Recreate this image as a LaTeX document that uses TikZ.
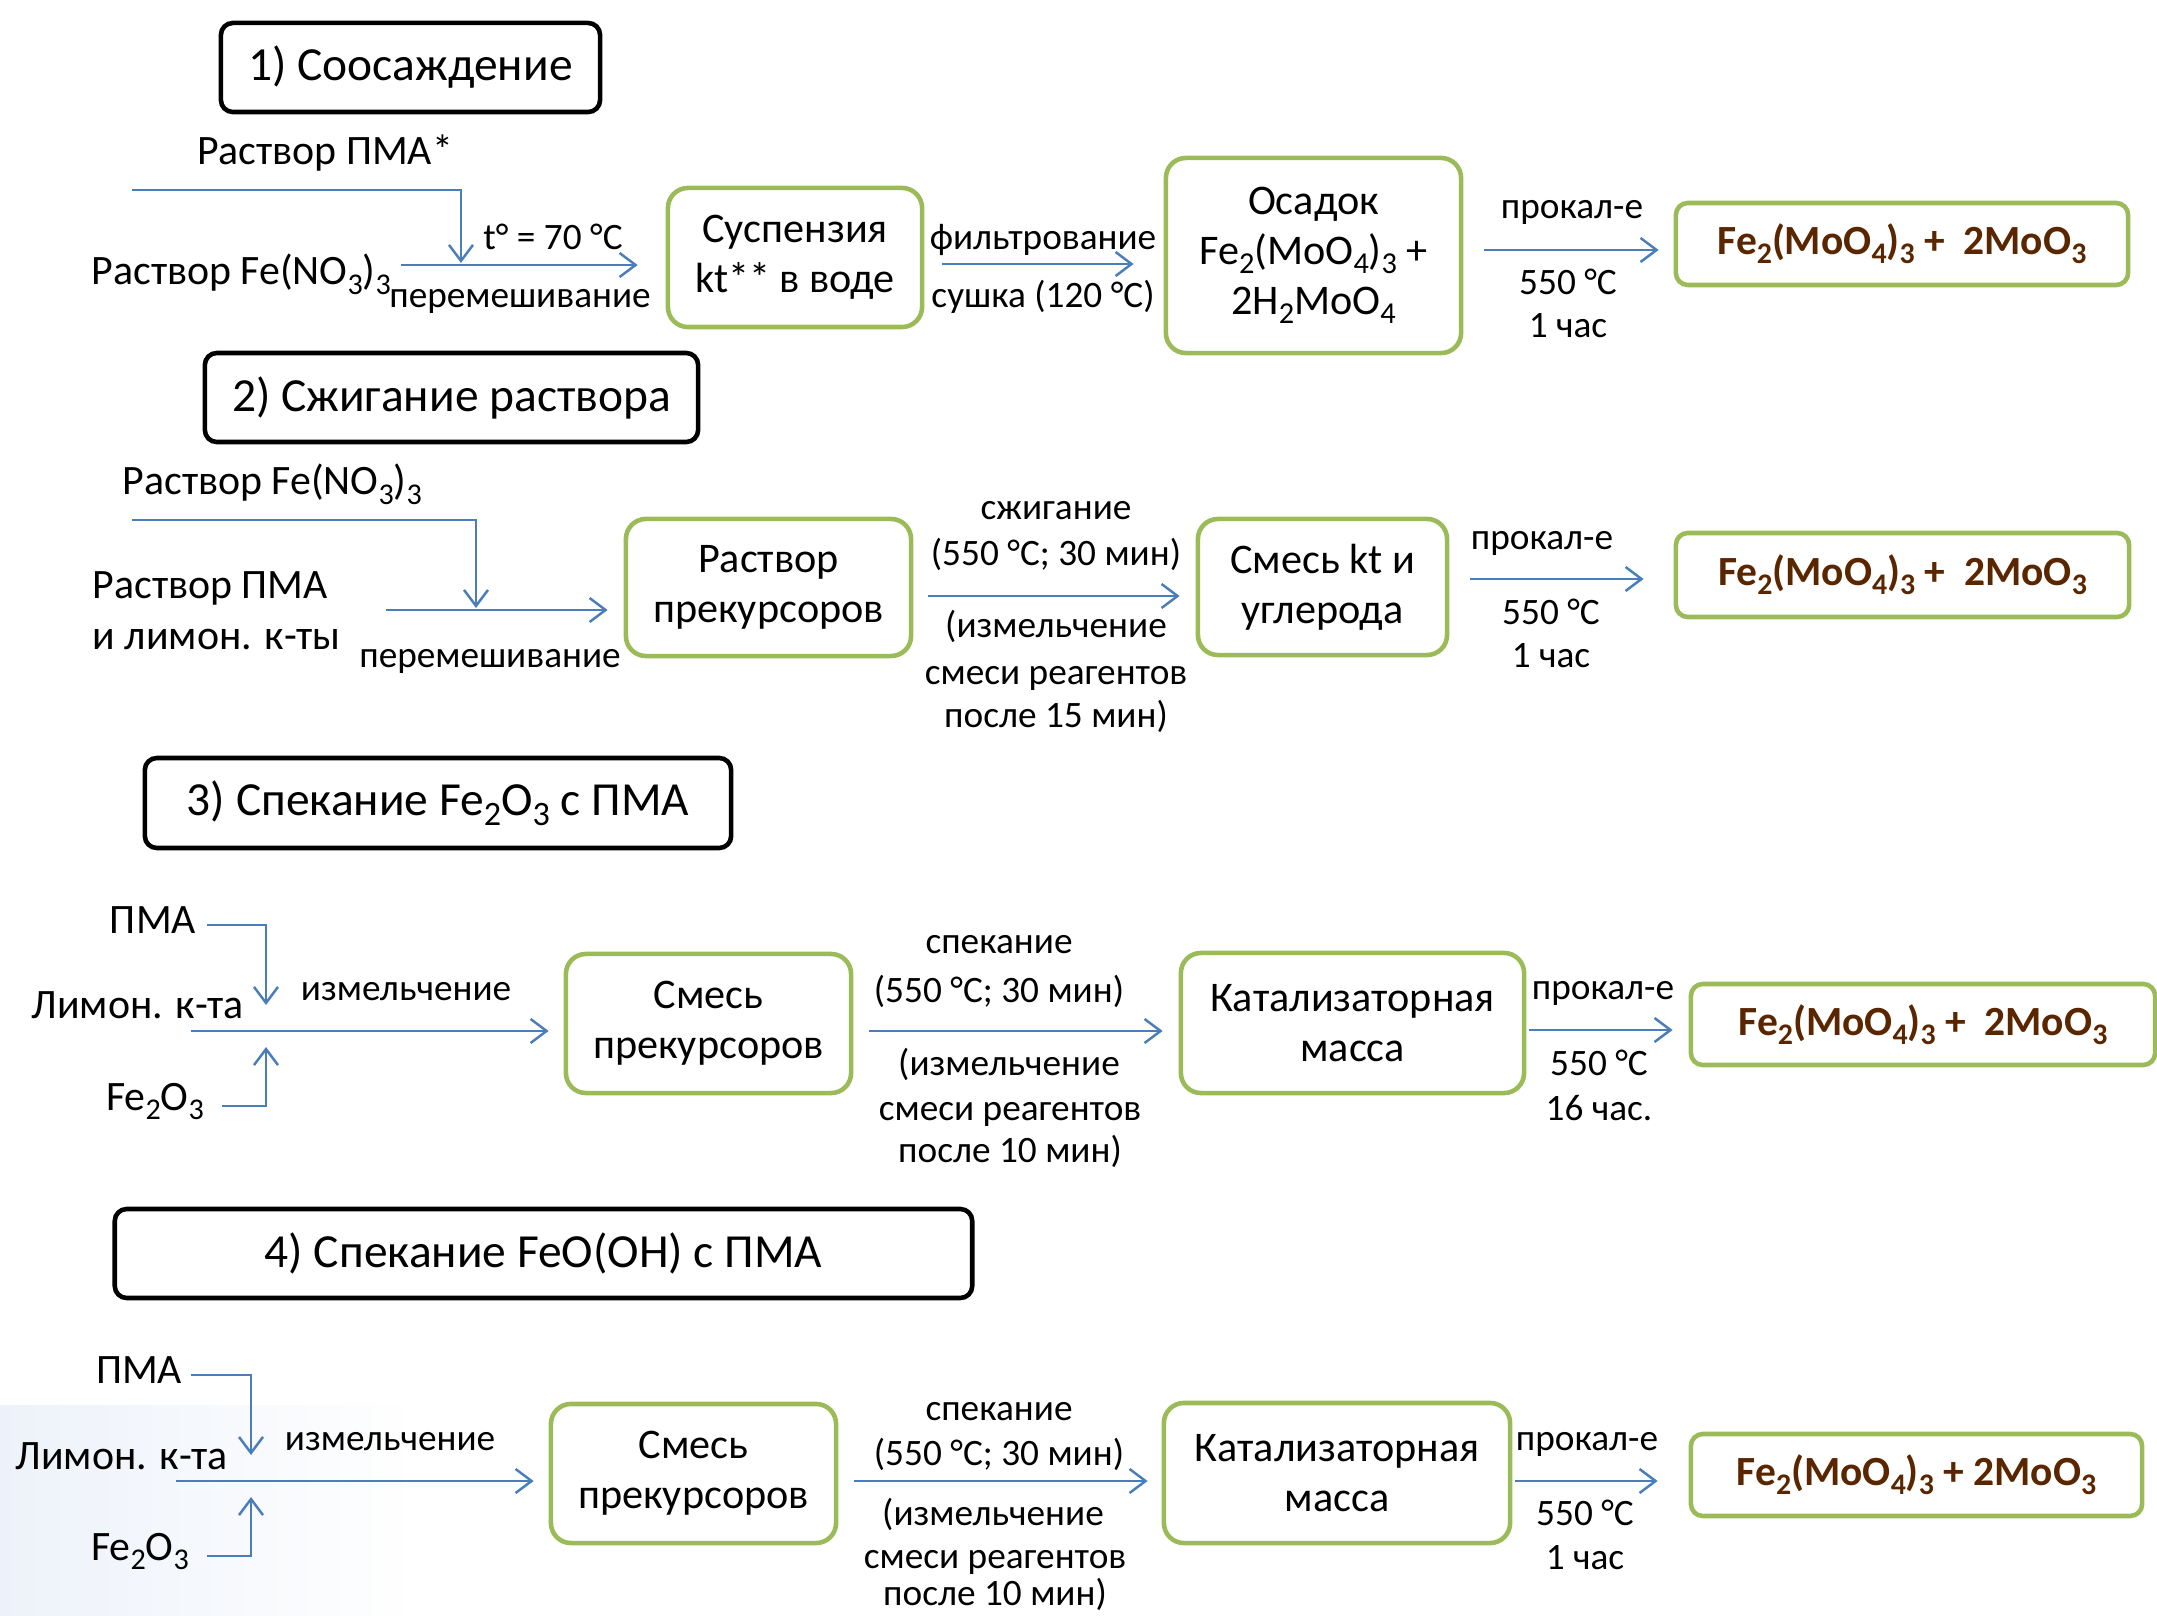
\documentclass[tikz,border=0pt]{standalone}
\usepackage{fontspec}
\usepackage{graphicx}
\setmainfont{Carlito}
\usetikzlibrary{arrows.meta,calc}
\definecolor{flowblue}{HTML}{4A7EBB}
\definecolor{boxgreen}{HTML}{9BBB59}
\definecolor{prodtext}{HTML}{5A2600}
\definecolor{bgblue}{HTML}{EDF2FA}
\newcommand{\sbs}[1]{\raisebox{-0.22em}{\scalebox{0.72}{#1}}}
\tikzset{
  lbl/.style={font=\fontsize{10.6}{12}\selectfont, inner sep=0pt, anchor=base},
  inlbl/.style={font=\fontsize{11.9}{13}\selectfont, inner sep=0pt, anchor=base},
  inlblw/.style={inlbl, anchor=base west},
  stepbox/.style={draw=boxgreen, line width=1.3pt, rounded corners=0.2cm, align=center,
    font=\fontsize{12}{14.2}\selectfont, inner sep=2pt},
  titlebox/.style={draw=black, line width=1.3pt, rounded corners=0.12cm,
    font=\fontsize{13.5}{16}\selectfont, inner sep=0pt},
  prodbox/.style={draw=boxgreen, line width=1.3pt, rounded corners=0.12cm,
    font=\bfseries\fontsize{11.8}{14}\selectfont, text=prodtext, inner sep=0pt},
  flow/.style={draw=flowblue, line width=0.7pt, -{Straight Barb[length=0.16cm,width=0.24cm]}},
}
\begin{document}
\begin{tikzpicture}[x=0.01cm,y=-0.01cm]
\useasboundingbox (0,0) rectangle (2157,1616);
\shade[left color=bgblue, right color=white] (0,1405) rectangle (420,1616);

% ---------- Section 1 ----------
\node[titlebox, minimum width=3.79cm, minimum height=0.89cm] (t1) at (410.5,67.5) {1) Соосаждение};
\node[inlbl] (l1a) at (325,165) {Раствор ПМА*};
\node[inlblw] (l1b) at (91,285) {Раствор Fe(NO\sbs{3})\sbs{3}};
\node[lbl] (l1c) at (553,250) {t° = 70 °C};
\node[lbl] (l1d) at (520,308) {перемешивание};
\node[stepbox, minimum width=2.54cm, minimum height=1.39cm] (b1) at (795,257.5) {Суспензия\\kt** в воде};
\node[lbl] (l1e) at (1043,250) {фильтрование};
\node[lbl] (l1f) at (1043,308) {сушка (120 °C)};
\node[stepbox, minimum width=2.95cm, minimum height=1.95cm] (b2) at (1313.5,255.5) {Осадок\\Fe\sbs{2}(MoO\sbs{4})\sbs{3} +\\2H\sbs{2}MoO\sbs{4}};
\node[lbl] (l1g) at (1572,219) {прокал-е};
\node[lbl] (l1h) at (1568,295) {550 °C};
\node[lbl] (l1i) at (1568,338) {1 час};
\node[prodbox, minimum width=4.52cm, minimum height=0.82cm] (p1) at (1902,244) {Fe\sbs{2}(MoO\sbs{4})\sbs{3} +\ \ 2MoO\sbs{3}};

\coordinate (f1s) at (132,190);
\coordinate (j1) at (461,263);
\coordinate (m1) at (401,265);
\coordinate (y12) at (0,264);
\coordinate (y1p) at (0,250);
\draw[flow] (f1s) -| (j1);
\draw[flow] (m1) -- ($(b1.west |- m1)+(-28,0)$);
\draw[flow] ($(b1.east |- y12)+(18,0)$) -- ($(b2.west |- y12)+(-30,0)$);
\draw[flow] ($(b2.east |- y1p)+(21,0)$) -- ($(p1.west |- y1p)+(-15,0)$);

% ---------- Section 2 ----------
\node[titlebox, minimum width=4.93cm, minimum height=0.89cm] (t2) at (451.5,397.5) {2) Сжигание раствора};
\node[inlblw] (l2a) at (122,495) {Раствор Fe(NO\sbs{3})\sbs{3}};
\node[inlblw] (l2b) at (92,599) {Раствор ПМА};
\node[inlblw] (l2c) at (92,650) {и лимон. к-ты};
\node[lbl] (l2d) at (490,668) {перемешивание};
\node[stepbox, minimum width=2.85cm, minimum height=1.37cm] (b3) at (768.5,587.5) {Раствор\\прекурсоров};
\node[lbl] (l2e) at (1056,520) {сжигание};
\node[lbl] (l2f) at (1056,566) {(550 °C; 30 мин)};
\node[lbl] (l2g) at (1056,638) {(измельчение};
\node[lbl] (l2h) at (1056,685) {смеси реагентов};
\node[lbl] (l2i) at (1056,728) {после 15 мин)};
\node[stepbox, minimum width=2.49cm, minimum height=1.36cm] (b4) at (1322.5,587) {Смесь kt и\\углерода};
\node[lbl] (l2j) at (1542,550) {прокал-е};
\node[lbl] (l2k) at (1551,625) {550 °C};
\node[lbl] (l2l) at (1551,668) {1 час};
\node[prodbox, minimum width=4.53cm, minimum height=0.84cm] (p2) at (1902.5,575) {Fe\sbs{2}(MoO\sbs{4})\sbs{3} +\ \ 2MoO\sbs{3}};

\coordinate (f2s) at (132,520);
\coordinate (j2) at (476,608);
\coordinate (m2) at (386,610);
\coordinate (y34) at (0,596);
\coordinate (y4p) at (0,579);
\draw[flow] (f2s) -| (j2);
\draw[flow] (m2) -- ($(b3.west |- m2)+(-16,0)$);
\draw[flow] ($(b3.east |- y34)+(15,0)$) -- ($(b4.west |- y34)+(-16,0)$);
\draw[flow] ($(b4.east |- y4p)+(21,0)$) -- ($(p2.west |- y4p)+(-30,0)$);

% ---------- Section 3 ----------
\node[titlebox, minimum width=5.86cm, minimum height=0.90cm] (t3) at (438,803) {3) Спекание Fe\sbs{2}O\sbs{3} с ПМА};
\node[inlbl] (l3a) at (153,933) {ПМА};
\node[inlblw] (l3b) at (31,1018) {Лимон. к-та};
\node[inlbl] (l3c) at (155,1110) {Fe\sbs{2}O\sbs{3}};
\node[lbl] (l3d) at (406,1000) {измельчение};
\node[stepbox, minimum width=2.85cm, minimum height=1.39cm] (b5) at (708.5,1023.5) {Смесь\\прекурсоров};
\node[lbl] (l3e) at (999,953) {спекание};
\node[lbl] (l3f) at (999,1002) {(550 °C; 30 мин)};
\node[lbl] (l3g) at (1009,1075) {(измельчение};
\node[lbl] (l3h) at (1010,1120) {смеси реагентов};
\node[lbl] (l3i) at (1010,1162) {после 10 мин)};
\node[stepbox, minimum width=3.43cm, minimum height=1.40cm] (b6) at (1352.5,1023) {Катализаторная\\масса};
\node[lbl] (l3j) at (1603,999) {прокал-е};
\node[lbl] (l3k) at (1599,1075) {550 °C};
\node[lbl] (l3l) at (1599,1120) {16 час.};
\node[prodbox, minimum width=4.64cm, minimum height=0.81cm] (p3) at (1923,1024.5) {Fe\sbs{2}(MoO\sbs{4})\sbs{3} +\ \ 2MoO\sbs{3}};

\coordinate (f3a) at (207,925);
\coordinate (j3a) at (266,1005);
\coordinate (f3b) at (222,1106);
\coordinate (j3b) at (266,1047);
\coordinate (m3) at (191,1031);
\coordinate (y56) at (0,1031);
\coordinate (y6p) at (0,1030);
\draw[flow] (f3a) -| (j3a);
\draw[flow] (f3b) -| (j3b);
\draw[flow] (m3) -- ($(b5.west |- m3)+(-15,0)$);
\draw[flow] ($(b5.east |- y56)+(16,0)$) -- ($(b6.west |- y56)+(-16,0)$);
\draw[flow] ($(b6.east |- y6p)+(3,0)$) -- ($(p3.west |- y6p)+(-16,0)$);

% ---------- Section 4 ----------
\node[titlebox, minimum width=8.57cm, minimum height=0.89cm] (t4) at (543.5,1253.5) {4) Спекание FeO(OH) с ПМА};
\node[inlbl] (l4a) at (139,1383) {ПМА};
\node[inlblw] (l4b) at (15,1469) {Лимон. к-та};
\node[inlbl] (l4c) at (140,1560) {Fe\sbs{2}O\sbs{3}};
\node[lbl] (l4d) at (390,1450) {измельчение};
\node[stepbox, minimum width=2.85cm, minimum height=1.39cm] (b7) at (693.5,1473.5) {Смесь\\прекурсоров};
\node[lbl] (l4e) at (999,1420) {спекание};
\node[lbl] (l4f) at (999,1465) {(550 °C; 30 мин)};
\node[lbl] (l4g) at (993,1525) {(измельчение};
\node[lbl] (l4h) at (995,1568) {смеси реагентов};
\node[lbl] (l4i) at (995,1605) {после 10 мин)};
\node[stepbox, minimum width=3.46cm, minimum height=1.40cm] (b8) at (1337,1473) {Катализаторная\\масса};
\node[lbl] (l4j) at (1587,1450) {прокал-е};
\node[lbl] (l4k) at (1585,1525) {550 °C};
\node[lbl] (l4l) at (1585,1569) {1 час};
\node[prodbox, minimum width=4.51cm, minimum height=0.82cm] (p4) at (1916.5,1475) {Fe\sbs{2}(MoO\sbs{4})\sbs{3} + 2MoO\sbs{3}};

\coordinate (f4a) at (191,1375);
\coordinate (j4a) at (251,1455);
\coordinate (f4b) at (207,1556);
\coordinate (j4b) at (251,1497);
\coordinate (m4) at (176,1481);
\coordinate (y78) at (0,1481);
\draw[flow] (f4a) -| (j4a);
\draw[flow] (f4b) -| (j4b);
\draw[flow] (m4) -- ($(b7.west |- m4)+(-15,0)$);
\draw[flow] ($(b7.east |- y78)+(16,0)$) -- ($(b8.west |- y78)+(-14,0)$);
\draw[flow] ($(b8.east |- y78)+(3,0)$) -- ($(p4.west |- y78)+(-31,0)$);
\end{tikzpicture}
\end{document}
